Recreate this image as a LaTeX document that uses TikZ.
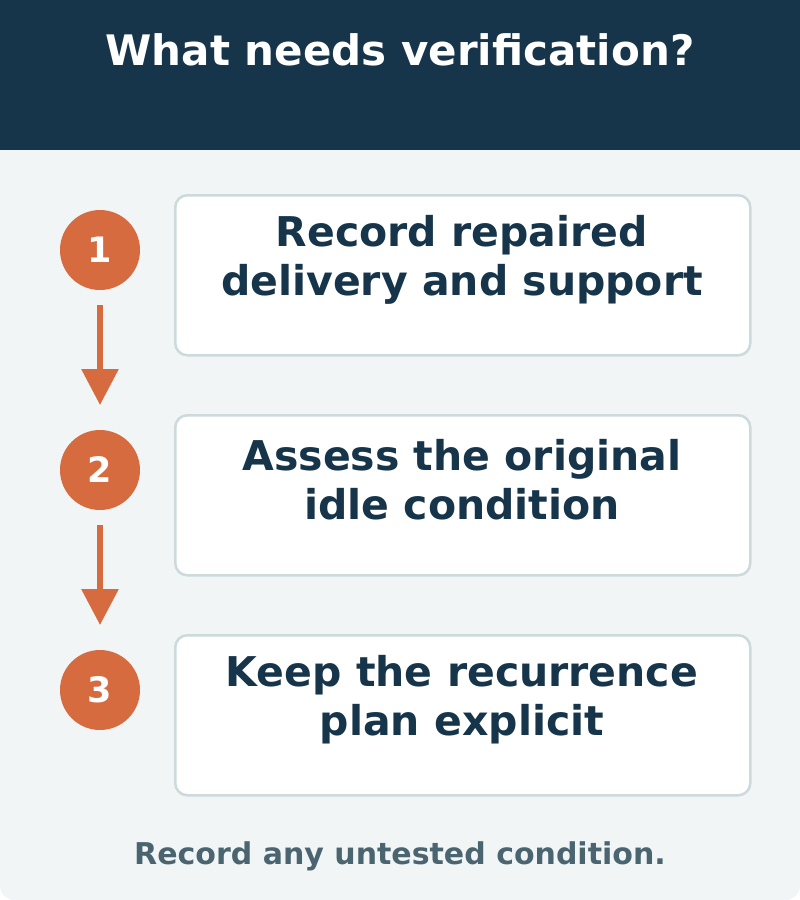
\documentclass[tikz,border=0pt]{standalone}
\usepackage{fontspec}
\setmainfont{DejaVu Sans}
\usepackage{xcolor}
\usetikzlibrary{arrows.meta, positioning}
\definecolor{headbg}{HTML}{16344A}
\definecolor{pagebg}{HTML}{F1F5F6}
\definecolor{stepc}{HTML}{D76B40}
\definecolor{boxline}{HTML}{CCDADC}
\definecolor{notec}{HTML}{4A6470}
\begin{document}
\begin{tikzpicture}[
    x=1pt, y=-1pt,
    stepbox/.style={rectangle, rounded corners=12pt, draw=boxline, line width=2.5pt, fill=white, minimum width=575pt, minimum height=160pt, anchor=north west},
    steptext/.style={font=\bfseries\fontsize{41}{49}\selectfont, text=headbg, align=center},
    num/.style={circle, fill=stepc, minimum size=80pt, inner sep=0pt, text=white, font=\bfseries\fontsize{35}{40}\selectfont},
    arrow/.style={-{Triangle[width=36pt,length=36pt]}, line width=6pt, draw=stepc}
]
\useasboundingbox (0,0) rectangle (800,900);
% Background
\fill[pagebg, rounded corners=14pt] (0,100) rectangle (800,900);
\fill[headbg] (0,0) rectangle (800,150);
\node[text=white, font=\bfseries\fontsize{42}{48}\selectfont] (title) at (400,50) {What needs verification?};

% Steps
\node[stepbox] (box1) at (174,194) {};
\node[stepbox] (box2) at (174,414) {};
\node[stepbox] (box3) at (174,634) {};
\node[steptext] (text1) at (462,260) {Record repaired\\delivery and support};
\node[steptext] (text2) at (462,480) {Assess the original\\idle condition};
\node[steptext] (text3) at (462,700) {Keep the recurrence\\plan explicit};

% Numbers
\node[num] (num1) at (100,250) {1};
\node[num] (num2) at (100,470) {2};
\node[num] (num3) at (100,690) {3};
\coordinate (end1) at (100,405);
\coordinate (end2) at (100,625);

% Arrows
\draw[arrow] ([yshift=-15pt]num1.south) -- (end1);
\draw[arrow] ([yshift=-15pt]num2.south) -- (end2);

\node[text=notec, font=\bfseries\fontsize{30}{36}\selectfont] (note) at (400,856) {Record any untested condition.};
\end{tikzpicture}
\end{document}
